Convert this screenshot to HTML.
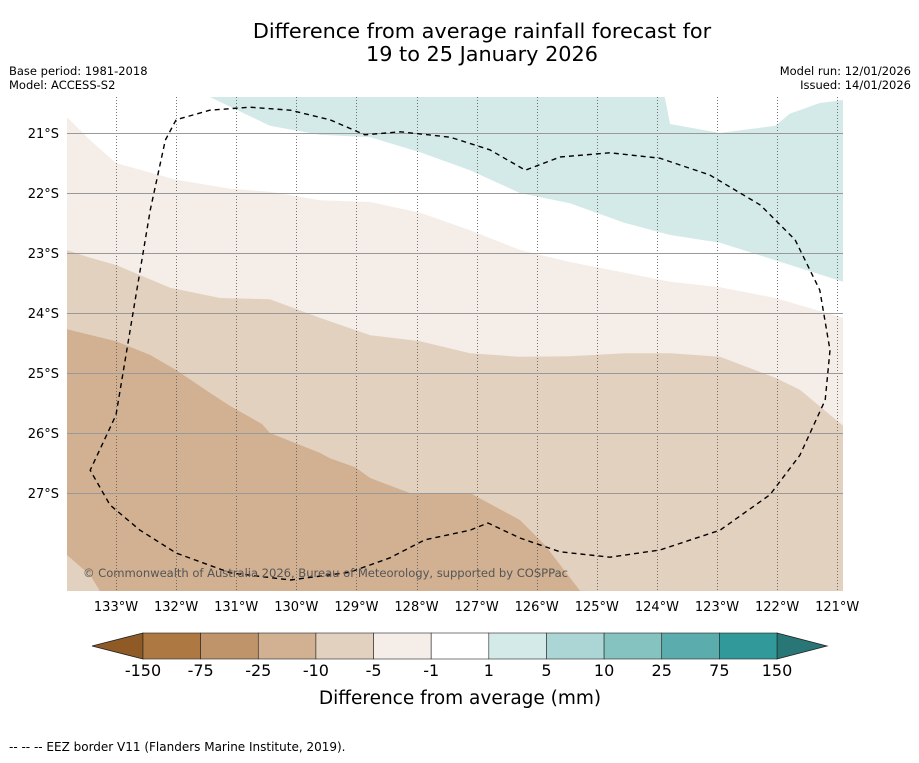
<!DOCTYPE html>
<html><head><meta charset="utf-8"><style>
body{margin:0;background:#fff;width:919px;height:758px;overflow:hidden;font-family:"Liberation Sans","DejaVu Sans",sans-serif}
svg text{font-family:"DejaVu Sans","Liberation Sans",sans-serif}
</style></head><body>
<svg id="c" width="919" height="758">
<text x="482" y="38" font-size="20.8" text-anchor="middle">Difference from average rainfall forecast for</text>
<text x="482" y="61" font-size="20.8" text-anchor="middle">19 to 25 January 2026</text>
<text x="9" y="75" font-size="11.5">Base period: 1981-2018</text>
<text x="9" y="89" font-size="11.5">Model: ACCESS-S2</text>
<text x="911" y="75" font-size="11.5" text-anchor="end">Model run: 12/01/2026</text>
<text x="911" y="89" font-size="11.5" text-anchor="end">Issued: 14/01/2026</text>
<g id="map"></g>
<g id="cb"></g>
<text x="460" y="704" font-size="18.5" text-anchor="middle">Difference from average (mm)</text>
<text x="9" y="751" font-size="12">--  --  -- EEZ border V11 (Flanders Marine Institute, 2019).</text>
</svg>
<script>
// longitude ticks (degrees W) and latitude ticks (degrees S)
const lonTicks=[133,132,131,130,129,128,127,126,125,124,123,122,121];
const latTicks=[21,22,23,24,25,26,27];
// contour boundaries as [lonW, latS]
const bTeal=[[131.44,20.40],[130.44,20.88],[129.61,21.03],[128.77,21.07],[127.94,21.32],[127.11,21.62],[126.28,22.0],[125.45,22.17],[124.53,22.5],[123.78,22.7],[122.95,22.83],[122.03,23.12],[120.90,23.48],[120.90,20.45],[121.29,20.50],[121.79,20.68],[122.03,20.88],[122.95,21.0],[123.78,20.85],[123.87,20.40]];
const bWhite=[[133.82,20.73],[133.43,21.12],[133,21.5],[132,21.78],[131.10,21.93],[130.44,21.98],[129.61,22.12],[128.77,22.15],[127.94,22.33],[127.11,22.62],[126.28,22.95],[125.45,23.15],[124.53,23.33],[123.78,23.48],[122.95,23.57],[122.03,23.75],[120.90,24.08]];
const bM5=[[133.82,22.95],[133.43,23.08],[133,23.2],[132.10,23.58],[131.27,23.75],[130.44,23.77],[129.61,24.08],[128.77,24.37],[127.94,24.47],[127.11,24.67],[126.28,24.73],[125.45,24.72],[124.53,24.67],[123.78,24.67],[122.95,24.73],[122.03,25.08],[121.62,25.28],[120.90,25.88]];
const bM10=[[133.82,24.27],[133,24.47],[132.43,24.70],[132,24.95],[131.44,25.33],[131.10,25.55],[130.57,25.85],[130.44,26.0],[129.61,26.33],[129.44,26.42],[129.02,26.57],[128.77,26.75],[128.11,27.0],[127.11,27.0],[126.28,27.45],[125.86,27.87],[125.28,28.63]];
const bCorner=[[133.82,28.03],[133.43,28.37],[133.27,28.63]];
const eez=[[132,20.78],[132.18,21.12],[132.43,22.28],[132.68,23.78],[133,25.70],[133.43,26.62],[133.10,27.20],[132.60,27.62],[132,28.0],[131.10,28.33],[130.10,28.45],[129.11,28.32],[128.44,28.08],[127.86,27.78],[127.11,27.62],[126.81,27.50],[126.28,27.75],[125.61,27.98],[124.78,28.07],[123.95,27.95],[122.95,27.62],[122.12,27.03],[121.62,26.37],[121.20,25.45],[121.12,24.62],[121.29,23.62],[121.70,22.78],[122.28,22.20],[123.12,21.70],[123.95,21.42],[124.78,21.33],[125.61,21.40],[126.19,21.62],[126.78,21.28],[127.44,21.07],[128.27,20.98],[128.86,21.03],[129.44,20.78],[130.10,20.62],[130.77,20.57],[131.44,20.62],[132,20.78]];
const cbLabels=["-150","-75","-25","-10","-5","-1","1","5","10","25","75","150"];
const cbColors=["#ad7842","#c0946a","#d2b192","#e3d1c0","#f5ede8","#ffffff","#d4eae8","#acd6d5","#85c3c1","#5aadac","#31999a"];

const NS="http://www.w3.org/2000/svg";
const X0=67,X1=843,Y0=97,Y1=591;
const xs=l=>116+(133-l)*60.1;
const ys=l=>133+(l-21)*60;
const pts=a=>a.map(p=>xs(p[0]).toFixed(1)+","+ys(p[1]).toFixed(1)).join(" ");
function mk(tag,at,parent){const e=document.createElementNS(NS,tag);for(const k in at)e.setAttribute(k,at[k]);parent.appendChild(e);return e;}
const map=document.getElementById('map');
const defs=mk('defs',{},map);
const cp=mk('clipPath',{id:'clip'},defs);
mk('rect',{x:X0,y:Y0,width:X1-X0,height:Y1-Y0},cp);
const g=mk('g',{'clip-path':'url(#clip)'},map);
let r=mk('rect',{x:X0,y:Y0,width:X1-X0,height:Y1-Y0,fill:cbColors[2]},g);


const TL=[133.9,20.3],TR=[120.8,20.3],BR=[120.8,28.7];
let p=mk('polygon',{points:pts([TL,...bM10,BR,TR]),fill:cbColors[3]},g);


p=mk('polygon',{points:pts([[133.9,27.9],...bCorner,[133.9,28.7]]),fill:cbColors[3]},g);


p=mk('polygon',{points:pts([TL,...bM5,BR,TR]),fill:cbColors[4]},g);


p=mk('polygon',{points:pts([TL,...bWhite,[120.8,24.1],TR]),fill:cbColors[5]},g);


p=mk('polygon',{points:pts(bTeal),fill:cbColors[6]},g);


// grid
lonTicks.forEach(l=>{const x=Math.round(xs(l))+0.5;let e=mk('line',{x1:x,x2:x,y1:Y0,y2:Y1,stroke:'#555','stroke-width':0.8,'stroke-dasharray':'1,2'},g);


let t=mk('text',{x:xs(l),y:611,'font-size':13,'text-anchor':'middle'},map);t.textContent=l+'°W';

});
latTicks.forEach(l=>{const y=Math.round(ys(l))+0.5;let e=mk('line',{x1:X0,x2:X1,y1:y,y2:y,stroke:'#999','stroke-width':1},g);


let t=mk('text',{x:59,y:ys(l)+5,'font-size':13,'text-anchor':'end'},map);t.textContent=l+'°S';

});
let ez=mk('polyline',{points:pts(eez),fill:'none',stroke:'#000','stroke-width':1.4,'stroke-dasharray':'5,4'},g);


let ct=mk('text',{x:83,y:577,'font-size':11.6,fill:'#555',textLength:485},g);ct.textContent='© Commonwealth of Australia 2026, Bureau of Meteorology, supported by COSPPac';


// colorbar
const cb=document.getElementById('cb');
const CX0=143,CX1=777,CY0=633,CY1=659,w=(CX1-CX0)/cbColors.length;
let tri=mk('polygon',{points:`${CX0},${CY0} 92,646 ${CX0},${CY1}`,fill:'#8f5a26',stroke:'#222','stroke-width':0.8},cb);


tri=mk('polygon',{points:`${CX1},${CY0} 827,646 ${CX1},${CY1}`,fill:'#287676',stroke:'#222','stroke-width':0.8},cb);


cbColors.forEach((c,i)=>{let e=mk('rect',{x:CX0+i*w,y:CY0,width:w,height:CY1-CY0,fill:c,stroke:'#222','stroke-width':0.6},cb);

});
cbLabels.forEach((s,i)=>{let t=mk('text',{x:CX0+i*w,y:676,'font-size':16,'text-anchor':'middle'},cb);t.textContent=s;

});
</script>
</body></html>
